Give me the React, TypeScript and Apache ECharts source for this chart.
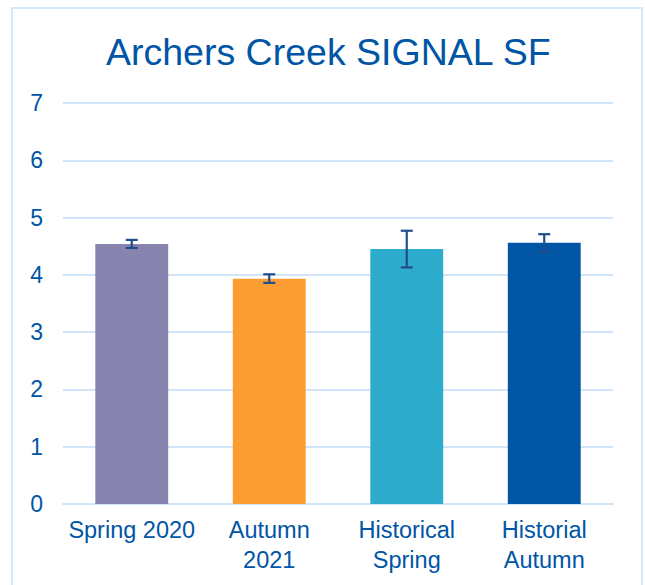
import React, { useEffect, useRef } from "react";
import * as echarts from "echarts";

const categories = ["Spring 2020", "Autumn\n2021", "Historical\nSpring", "Historial\nAutumn"];
const values = [4.54, 3.93, 4.45, 4.56];
const errLow = [4.47, 3.86, 4.13, 4.41];
const errHigh = [4.61, 4.01, 4.77, 4.71];
const barColors = ["#8884b0", "#fb9d33", "#2daccd", "#0055a5"];
const yTicks = [0, 1, 2, 3, 4, 5, 6, 7];

export default function App() {
  const ref = useRef<HTMLDivElement>(null);
  useEffect(() => {
    if (!ref.current) return;
    const chart = echarts.init(ref.current, null, { renderer: "svg" });
    const font = "'Liberation Sans', Arial, sans-serif";
    chart.setOption({
      animation: false,
      backgroundColor: "#ffffff",
      title: {
        text: "Archers Creek SIGNAL SF",
        left: 101,
        top: 28,
        textStyle: { color: "#0055a5", fontSize: 37.5, fontWeight: "normal", fontFamily: font },
      },
      graphic: [
        {
          type: "rect",
          shape: { x: 12, y: 8, width: 630, height: 590 },
          style: { fill: "none", stroke: "#d6e8f8", lineWidth: 2 },
          silent: true,
        },
      ],
      grid: { left: 63, right: 32, top: 103, bottom: 81, containLabel: false },
      xAxis: {
        type: "category",
        data: categories,
        axisLine: { show: true, lineStyle: { color: "#d0e5f7", width: 2 } },
        axisTick: { show: false },
        axisLabel: {
          color: "#0055a5",
          fontSize: 23.5,
          fontFamily: font,
          lineHeight: 30,
          margin: 11,
          interval: 0,
          verticalAlign: "top",
        },
      },
      yAxis: {
        type: "value",
        min: 0,
        max: 7,
        interval: 1,
        axisLine: { show: false },
        axisTick: { show: false },
        splitLine: { lineStyle: { color: "#d0e5f7", width: 2 } },
        axisLabel: {
          color: "#0055a5",
          fontSize: 23,
          fontFamily: font,
          margin: 20,
          formatter: (v: number) => (yTicks.includes(v) ? String(v) : ""),
        },
      },
      series: [
        {
          type: "bar",
          data: values.map((v, i) => ({ value: v, itemStyle: { color: barColors[i] } })),
          barWidth: "53%",
          z: 2,
        },
        {
          type: "custom",
          z: 3,
          data: categories.map((_, i) => [i, errLow[i], errHigh[i]]),
          renderItem: (params: any, api: any) => {
            const x = api.value(0);
            const lo = api.coord([x, api.value(1)]);
            const hi = api.coord([x, api.value(2)]);
            const half = 6;
            const style = { stroke: "#1f4e8c", lineWidth: 2.2 };
            return {
              type: "group",
              children: [
                { type: "line", shape: { x1: lo[0], y1: lo[1], x2: hi[0], y2: hi[1] }, style },
                { type: "line", shape: { x1: lo[0] - half, y1: lo[1], x2: lo[0] + half, y2: lo[1] }, style },
                { type: "line", shape: { x1: hi[0] - half, y1: hi[1], x2: hi[0] + half, y2: hi[1] }, style },
              ],
            };
          },
        },
      ],
    });
    return () => chart.dispose();
  }, []);
  return (
    <div
      ref={ref}
      style={{ position: "fixed", left: 0, top: 0, width: 645, height: 585, background: "#fff" }}
    />
  );
}
